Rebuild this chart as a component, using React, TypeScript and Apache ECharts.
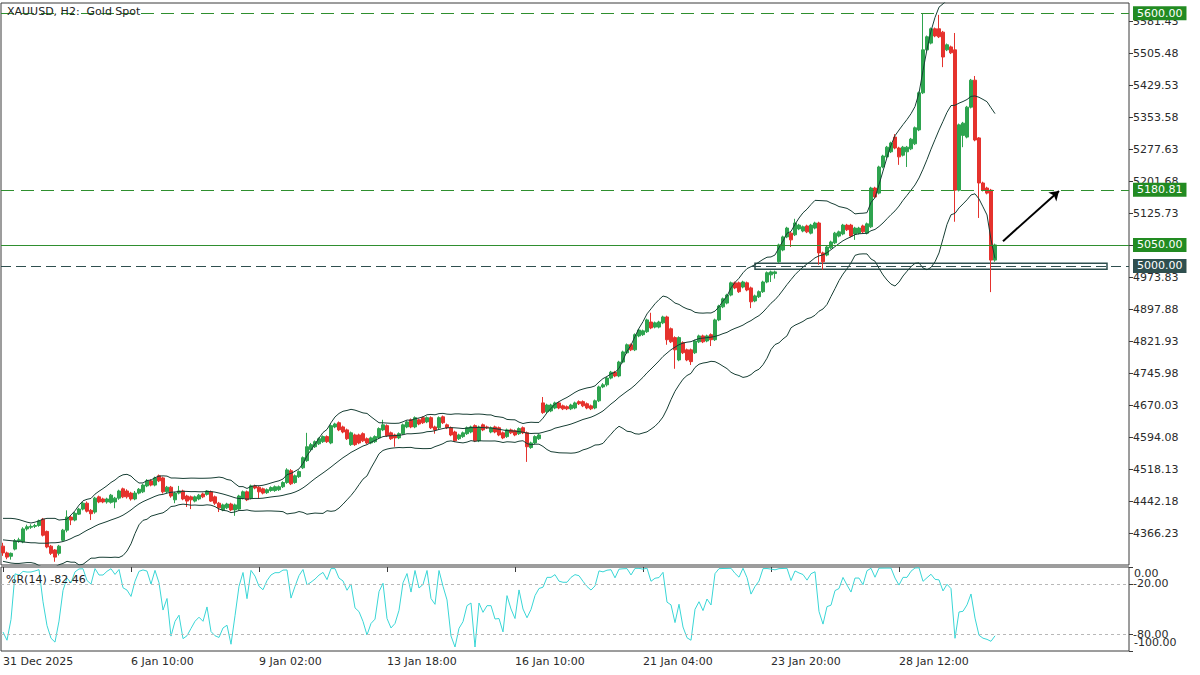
import React, { useEffect, useRef } from "react";
import * as echarts from "echarts";

// ---------- DATA ----------
const xTickLabels = [
  "31 Dec 2025", "6 Jan 10:00", "9 Jan 02:00", "13 Jan 18:00",
  "16 Jan 10:00", "21 Jan 04:00", "23 Jan 20:00", "28 Jan 12:00",
];
const BARS_PER_LABEL = 32;
const TOTAL_SLOTS = 282;

const opens = [
  4335, 4319, 4311, 4328, 4347, 4345, 4376, 4380, 4382, 4384,
  4399, 4370, 4335, 4326, 4318, 4349, 4373, 4404, 4397, 4411,
  4423, 4437, 4420, 4416, 4452, 4447, 4440, 4439, 4440, 4449,
  4471, 4466, 4461, 4447, 4461, 4464, 4478, 4490, 4480, 4502,
  4497, 4464, 4475, 4445, 4461, 4466, 4454, 4452, 4442, 4447,
  4459, 4458, 4464, 4452, 4437, 4421, 4426, 4435, 4421, 4423,
  4449, 4464, 4449, 4478, 4475, 4471, 4462, 4467, 4467, 4469,
  4476, 4486, 4514, 4486, 4500, 4521, 4538, 4564, 4571, 4578,
  4583, 4595, 4580, 4618, 4628, 4618, 4611, 4576, 4599, 4599,
  4602, 4590, 4580, 4583, 4592, 4611, 4621, 4604, 4599, 4592,
  4602, 4618, 4635, 4618, 4635, 4640, 4630, 4640, 4618, 4616,
  4642, 4623, 4616, 4606, 4590, 4595, 4602, 4606, 4621, 4585,
  4623, 4618, 4606, 4618, 4616, 4604, 4595, 4611, 4609, 4602,
  4616, 4604, 4569, 4580, 4590, 4675, 4654, 4656, 4663, 4675,
  4668, 4666, 4661, 4663, 4678, 4678, 4673, 4668, 4663, 4680,
  4713, 4718, 4734, 4748, 4739, 4772, 4794, 4813, 4801, 4834,
  4837, 4844, 4867, 4855, 4855, 4865, 4879, 4851, 4830, 4777,
  4818, 4801, 4801, 4794, 4820, 4834, 4822, 4837, 4825, 4872,
  4903, 4912, 4931, 4960, 4960, 4950, 4960, 4948, 4917, 4927,
  4939, 4962, 4979, 4982, 5010, 5038, 5069, 5078, 5074, 5088,
  5083, 5095, 5078, 5090, 5102, 5031, 5026, 5043, 5055, 5071,
  5076, 5097, 5097, 5076, 5078, 5095, 5078, 5093, 5185, 5173,
  5235, 5259, 5271, 5306, 5280, 5263, 5271, 5278, 5290, 5323,
  5411, 5513, 5529, 5563, 5563, 5555, 5513, 5520, 5513, 5180,
  5310, 5306, 5377, 5441, 5304, 5197, 5185, 5180, 5014,
];
const closes = [
  4319, 4309, 4318, 4348, 4350, 4376, 4381, 4382, 4384, 4395,
  4361, 4333, 4318, 4309, 4335, 4373, 4404, 4397, 4413, 4423,
  4437, 4418, 4412, 4449, 4440, 4440, 4447, 4456, 4449, 4466,
  4452, 4452, 4447, 4461, 4470, 4480, 4490, 4480, 4497, 4490,
  4464, 4475, 4454, 4461, 4466, 4447, 4442, 4445, 4452, 4456,
  4452, 4466, 4442, 4437, 4426, 4433, 4435, 4421, 4433, 4454,
  4464, 4445, 4478, 4473, 4464, 4461, 4469, 4474, 4476, 4476,
  4486, 4516, 4483, 4502, 4512, 4545, 4571, 4576, 4583, 4590,
  4595, 4583, 4621, 4625, 4611, 4606, 4590, 4604, 4576, 4580,
  4585, 4580, 4592, 4595, 4614, 4623, 4597, 4590, 4592, 4602,
  4623, 4630, 4618, 4640, 4625, 4628, 4640, 4616, 4611, 4640,
  4628, 4616, 4599, 4585, 4599, 4604, 4616, 4618, 4585, 4618,
  4611, 4616, 4616, 4606, 4599, 4592, 4611, 4604, 4599, 4614,
  4604, 4571, 4580, 4595, 4599, 4652, 4670, 4670, 4675, 4663,
  4661, 4661, 4670, 4675, 4673, 4668, 4663, 4661, 4680, 4713,
  4718, 4734, 4748, 4739, 4772, 4796, 4813, 4801, 4837, 4848,
  4846, 4872, 4853, 4865, 4867, 4879, 4825, 4820, 4801, 4830,
  4794, 4777, 4773, 4822, 4834, 4820, 4834, 4825, 4872, 4905,
  4922, 4931, 4960, 4948, 4939, 4962, 4943, 4915, 4929, 4939,
  4962, 4984, 4986, 4986, 5050, 5069, 5090, 5062, 5102, 5097,
  5093, 5081, 5097, 5102, 5031, 5010, 5045, 5057, 5078, 5081,
  5097, 5086, 5071, 5090, 5090, 5081, 5100, 5185, 5164, 5235,
  5261, 5282, 5292, 5280, 5259, 5282, 5282, 5301, 5328, 5411,
  5513, 5544, 5563, 5546, 5544, 5496, 5525, 5506, 5180, 5335,
  5339, 5377, 5441, 5299, 5197, 5180, 5173, 5014, 5050,
];
const lows = [
  4312, 4304, 4303, 4325, 4343, 4342, 4372, 4376, 4378, 4381,
  4358, 4330, 4314, 4298, 4313, 4346, 4368, 4385, 4394, 4409,
  4420, 4415, 4397, 4412, 4437, 4437, 4436, 4436, 4425, 4445,
  4449, 4448, 4443, 4444, 4458, 4461, 4475, 4477, 4477, 4487,
  4460, 4461, 4450, 4437, 4458, 4444, 4428, 4423, 4439, 4444,
  4449, 4455, 4440, 4433, 4416, 4418, 4423, 4418, 4407, 4420,
  4446, 4442, 4446, 4470, 4449, 4458, 4459, 4464, 4464, 4466,
  4473, 4483, 4480, 4483, 4497, 4518, 4535, 4560, 4568, 4575,
  4580, 4580, 4577, 4615, 4608, 4603, 4587, 4573, 4573, 4577,
  4582, 4577, 4577, 4580, 4589, 4608, 4594, 4587, 4571, 4589,
  4599, 4615, 4615, 4615, 4622, 4625, 4627, 4613, 4602, 4613,
  4625, 4613, 4596, 4582, 4587, 4592, 4599, 4603, 4582, 4582,
  4608, 4613, 4603, 4603, 4596, 4589, 4592, 4601, 4596, 4599,
  4601, 4535, 4566, 4577, 4587, 4649, 4651, 4653, 4660, 4660,
  4658, 4658, 4658, 4660, 4670, 4665, 4660, 4658, 4660, 4677,
  4710, 4714, 4731, 4736, 4736, 4769, 4791, 4798, 4798, 4831,
  4834, 4841, 4850, 4852, 4852, 4862, 4813, 4817, 4756, 4774,
  4791, 4774, 4765, 4791, 4817, 4817, 4819, 4810, 4822, 4869,
  4900, 4909, 4928, 4945, 4936, 4947, 4940, 4900, 4914, 4924,
  4936, 4959, 4962, 4970, 5007, 5035, 5066, 5045, 5071, 5085,
  5080, 5078, 5075, 5087, 5003, 4991, 5023, 5040, 5052, 5068,
  5073, 5083, 5068, 5062, 5075, 5078, 5075, 5090, 5161, 5170,
  5232, 5256, 5268, 5277, 5240, 5260, 5235, 5275, 5287, 5320,
  5408, 5510, 5526, 5543, 5541, 5472, 5510, 5503, 5105, 5177,
  5282, 5303, 5374, 5296, 5114, 5177, 5170, 4938, 5010,
];
const highs = [
  4343, 4322, 4320, 4352, 4355, 4380, 4386, 4387, 4388, 4398,
  4402, 4372, 4338, 4328, 4338, 4376, 4420, 4407, 4416, 4426,
  4440, 4441, 4423, 4452, 4455, 4450, 4450, 4459, 4452, 4469,
  4474, 4470, 4464, 4466, 4473, 4483, 4494, 4494, 4500, 4505,
  4500, 4478, 4478, 4464, 4478, 4469, 4457, 4455, 4455, 4459,
  4462, 4468, 4467, 4455, 4440, 4436, 4438, 4438, 4436, 4457,
  4467, 4467, 4481, 4481, 4478, 4474, 4472, 4477, 4479, 4479,
  4489, 4520, 4518, 4505, 4515, 4548, 4604, 4580, 4586, 4593,
  4598, 4598, 4624, 4628, 4631, 4621, 4614, 4607, 4602, 4602,
  4605, 4593, 4595, 4598, 4617, 4635, 4624, 4607, 4602, 4605,
  4626, 4633, 4638, 4643, 4638, 4643, 4643, 4643, 4621, 4643,
  4645, 4626, 4619, 4609, 4602, 4607, 4619, 4621, 4624, 4621,
  4626, 4621, 4619, 4621, 4619, 4607, 4614, 4614, 4612, 4617,
  4619, 4607, 4583, 4598, 4602, 4689, 4673, 4673, 4678, 4678,
  4671, 4669, 4673, 4678, 4681, 4681, 4676, 4671, 4683, 4716,
  4722, 4737, 4751, 4751, 4775, 4799, 4816, 4816, 4840, 4851,
  4849, 4875, 4889, 4868, 4870, 4882, 4882, 4854, 4833, 4833,
  4821, 4804, 4804, 4825, 4837, 4837, 4837, 4840, 4875, 4908,
  4925, 4934, 4963, 4963, 4963, 4965, 4963, 4951, 4932, 4942,
  4965, 4987, 4989, 4989, 5053, 5072, 5093, 5081, 5112, 5100,
  5096, 5098, 5100, 5105, 5105, 5034, 5048, 5060, 5081, 5084,
  5100, 5100, 5100, 5093, 5093, 5098, 5103, 5188, 5188, 5238,
  5264, 5285, 5295, 5313, 5283, 5285, 5285, 5304, 5331, 5414,
  5600, 5547, 5566, 5566, 5596, 5558, 5528, 5523, 5553, 5338,
  5342, 5380, 5444, 5451, 5306, 5200, 5188, 5183, 5053,
];

// Bollinger band values of the first bars (window not yet full in the data shown)
const bbUpperStart = [4401, 4401, 4401, 4400, 4398, 4395, 4392, 4390, 4392, 4395, 4399, 4401, 4401, 4401, 4397, 4398, 4399, 4409, 4419];
const bbMidStart = [4350, 4349, 4348, 4347, 4346, 4345, 4344, 4343, 4343, 4342, 4342, 4342, 4343, 4343, 4344, 4346, 4349, 4353, 4358];
const bbLowerStart = [4299, 4297, 4295, 4294, 4294, 4295, 4296, 4296, 4294, 4289, 4285, 4283, 4285, 4285, 4291, 4294, 4299, 4297, 4297];

const priceTicks = [
  4366.23, 4442.18, 4518.13, 4594.08, 4670.03, 4745.98, 4821.93, 4897.88,
  4973.83, 5049.78, 5125.73, 5201.68, 5277.63, 5353.58, 5429.53, 5505.48, 5581.43,
];
const wprTicks = [0, -20, -80, -100];
const wprInnerLabels = [-20, -80];
const wprEdgeLabels = [0, -100];
const wprLevels = [-20, -80];

const resistanceHigh = 5600;
const resistanceMid = 5180.81;
const pivotLevel = 5050;
const supportLevel = 5000;
const supportZone = [4992.2, 5006.4];
const supportZoneBars = [188, 276];
const arrowFrom = [250, 5059];
const arrowTo = [264, 5178];

const PRICE_MIN = 4290.3;
const PRICE_MAX = 5624.2;

// ---------- styles ----------
const GREEN = "#2ea44f";
const RED = "#e5322d";
const BB_COLOR = "#173e34";
const LEVEL_GREEN = "#2f8f2f";
const BOX_GREEN = "#228b22";
const SLATE = "#2f4f4f";
const FONT = "DejaVu Sans";
const AXIS_TEXT = "#2a2a2a";

function bollinger(period: number, mult: number) {
  const up: number[] = [], mid: number[] = [], lo: number[] = [];
  for (let i = 0; i < closes.length; i++) {
    if (i < period - 1) {
      up.push(bbUpperStart[i]); mid.push(bbMidStart[i]); lo.push(bbLowerStart[i]);
      continue;
    }
    let s = 0;
    for (let j = i - period + 1; j <= i; j++) s += closes[j];
    const m = s / period;
    let v = 0;
    for (let j = i - period + 1; j <= i; j++) v += (closes[j] - m) ** 2;
    const sd = Math.sqrt(v / period);
    up.push(+(m + mult * sd).toFixed(2));
    mid.push(+m.toFixed(2));
    lo.push(+(m - mult * sd).toFixed(2));
  }
  return { up, mid, lo };
}

function williams(period: number) {
  const out: number[] = [];
  for (let i = 0; i < closes.length; i++) {
    const s = Math.max(0, i - period + 1);
    let hh = -Infinity, ll = Infinity;
    for (let j = s; j <= i; j++) { hh = Math.max(hh, highs[j]); ll = Math.min(lows[j], ll); }
    out.push(hh === ll ? -50 : +(((hh - closes[i]) / (hh - ll)) * -100).toFixed(2));
  }
  return out;
}

const levelLine = (value: number, text: string, color: string, box: string, type: any) => ({
  yAxis: value,
  lineStyle: { color, width: 1, type },
  label: {
    show: true,
    position: "end",
    formatter: text,
    color: "#ffffff",
    backgroundColor: box,
    padding: [2, 4, 1, 4],
    fontSize: 11,
    fontFamily: FONT,
    distance: 4,
  },
});

export default function App() {
  const ref = useRef<HTMLDivElement>(null);

  useEffect(() => {
    if (!ref.current) return;
    const chart = echarts.init(ref.current, null, { renderer: "svg", width: 1200, height: 675 });

    const cats = Array.from({ length: TOTAL_SLOTS }, (_, i) => String(i));
    const isLabelIdx = (i: number) => i % BARS_PER_LABEL === 0 && i / BARS_PER_LABEL < xTickLabels.length;
    const ohlc = opens.map((o, i) => [o, closes[i], lows[i], highs[i]]);
    const bb = bollinger(20, 2);
    const wpr = williams(14);

    const option: any = {
      animation: false,
      backgroundColor: "#ffffff",
      textStyle: { fontFamily: FONT },
      grid: [
        { left: 1, top: 3, width: 1128, height: 562, show: true, borderColor: "#3a3a3a", borderWidth: 1 },
        { left: 1, top: 567, width: 1128, height: 84, show: true, borderColor: "#3a3a3a", borderWidth: 1 },
      ],
      xAxis: [
        {
          type: "category", gridIndex: 0, data: cats, boundaryGap: true,
          axisLine: { show: false }, axisTick: { show: false }, axisLabel: { show: false }, splitLine: { show: false },
        },
        {
          type: "category", gridIndex: 1, data: cats, boundaryGap: true,
          axisLine: { show: false },
          axisTick: {
            show: true, alignWithLabel: true, length: 5,
            interval: (i: number) => isLabelIdx(i),
            lineStyle: { color: "#3a3a3a" },
          },
          axisLabel: {
            interval: (i: number) => isLabelIdx(i),
            formatter: (v: string) => {
              const i = Number(v);
              return isLabelIdx(i) ? xTickLabels[i / BARS_PER_LABEL] : "";
            },
            align: "left", margin: 5, color: AXIS_TEXT, fontSize: 11, fontFamily: FONT,
          },
          splitLine: { show: false },
        },
      ],
      yAxis: [
        {
          type: "value", gridIndex: 0, position: "right", min: PRICE_MIN, max: PRICE_MAX, scale: true,
          axisLine: { show: false },
          axisTick: { show: true, customValues: priceTicks, length: 4, lineStyle: { color: "#3a3a3a" } },
          axisLabel: {
            customValues: priceTicks, formatter: (v: number) => v.toFixed(2),
            margin: 4, color: AXIS_TEXT, fontSize: 11, fontFamily: FONT,
          },
          splitLine: { show: false },
        },
        {
          type: "value", gridIndex: 1, position: "right", min: -100, max: 0,
          axisLine: { show: false },
          axisTick: { show: true, customValues: wprTicks, length: 4, lineStyle: { color: "#3a3a3a" } },
          axisLabel: {
            customValues: wprInnerLabels,
            formatter: (v: number) => v.toFixed(2),
            margin: 4, color: AXIS_TEXT, fontSize: 11, fontFamily: FONT,
          },
          splitLine: { show: false },
        },
        {
          // same panel: edge labels 0.00 / -100.00 set just inside the panel, as in the terminal
          type: "value", gridIndex: 1, position: "right", min: -111.6, max: 9.0,
          axisLine: { show: false },
          axisTick: { show: false },
          axisLabel: {
            customValues: wprEdgeLabels,
            showMinLabel: true, showMaxLabel: true,
            formatter: (v: number) => (Math.abs(v) < 1e-9 ? "0.00" : v.toFixed(2)),
            margin: 5, color: AXIS_TEXT, fontSize: 11, fontFamily: FONT,
          },
          splitLine: { show: false },
        },
      ],
      graphic: [
        {
          type: "text", left: 7, top: 6, z: 10,
          style: { text: "XAUUSD, H2:  Gold Spot", fill: "#222", fontSize: 11, fontFamily: FONT },
        },
        {
          type: "text", left: 6, top: 574, z: 10,
          style: { text: "%R(14) -82.46", fill: "#222", fontSize: 11, fontFamily: FONT },
        },
      ],
      series: [
        {
          type: "candlestick", xAxisIndex: 0, yAxisIndex: 0, data: ohlc, barWidth: 2.6, z: 2,
          itemStyle: { color: GREEN, color0: RED, borderColor: GREEN, borderColor0: RED, borderWidth: 1 },
        },
        {
          type: "line", xAxisIndex: 0, yAxisIndex: 0, data: bb.up, symbol: "none", z: 3, silent: true,
          lineStyle: { color: BB_COLOR, width: 1 },
          markLine: {
            silent: true, symbol: ["none", "arrow"], symbolSize: 9,
            lineStyle: { color: "#000", width: 2, type: "solid" },
            label: { show: false },
            data: [[{ coord: arrowFrom }, { coord: arrowTo }]],
          },
        },
        {
          type: "line", xAxisIndex: 0, yAxisIndex: 0, data: bb.mid, symbol: "none", z: 3, silent: true,
          lineStyle: { color: BB_COLOR, width: 1 },
          markArea: {
            silent: true,
            itemStyle: { color: "#ffffff", borderColor: SLATE, borderWidth: 1.5 },
            data: [[
              { xAxis: supportZoneBars[0], yAxis: supportZone[1] },
              { xAxis: supportZoneBars[1], yAxis: supportZone[0] },
            ]],
          },
          markLine: {
            silent: true, symbol: "none",
            data: [
              levelLine(resistanceHigh, "5600.00", LEVEL_GREEN, BOX_GREEN, [13, 7]),
              levelLine(resistanceMid, "5180.81", LEVEL_GREEN, BOX_GREEN, [13, 7]),
              levelLine(pivotLevel, "5050.00", LEVEL_GREEN, BOX_GREEN, "solid"),
              levelLine(supportLevel, "5000.00", SLATE, SLATE, [10, 5]),
            ],
          },
        },
        {
          type: "line", xAxisIndex: 0, yAxisIndex: 0, data: bb.lo, symbol: "none", z: 3, silent: true,
          lineStyle: { color: BB_COLOR, width: 1 },
        },
        {
          type: "line", xAxisIndex: 1, yAxisIndex: 1, data: wpr, symbol: "none", z: 3, silent: true,
          lineStyle: { color: "#3ad6d6", width: 1 },
          markLine: {
            silent: true, symbol: "none", label: { show: false },
            lineStyle: { color: "#b8b8b8", width: 1, type: [3, 3] },
            data: wprLevels.map((v) => ({ yAxis: v })),
          },
        },
      ],
    };

    chart.setOption(option);
    return () => chart.dispose();
  }, []);

  return (
    <div
      ref={ref}
      style={{ position: "fixed", left: 0, top: 0, width: 1200, height: 675, background: "#fff" }}
    />
  );
}
